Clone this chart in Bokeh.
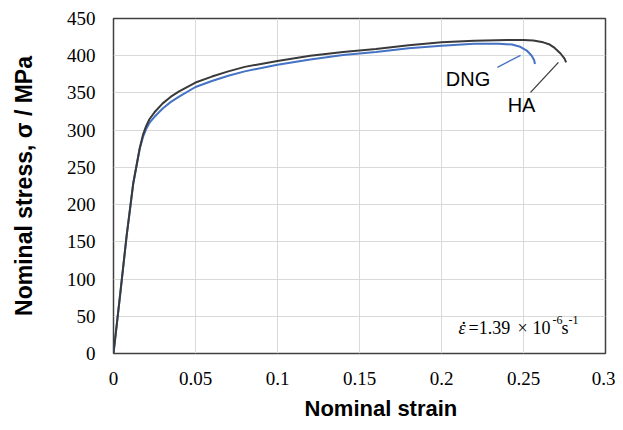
from bokeh.plotting import figure
from bokeh.models import Label, Range1d, FixedTicker
from bokeh.embed import file_html
from bokeh.resources import INLINE

# ---- data ----
ha_strain = [0, 0.004, 0.008, 0.012, 0.016, 0.018, 0.020, 0.022, 0.025, 0.030, 0.035, 0.040,
             0.050, 0.060, 0.070, 0.080, 0.100, 0.120, 0.140, 0.160, 0.180, 0.200, 0.220,
             0.240, 0.250, 0.256, 0.262, 0.266, 0.269, 0.2726, 0.275, 0.276]
ha_stress = [0, 78, 158, 228, 276, 294, 306, 315, 324, 336, 345, 352,
             364, 372, 379, 385, 393, 400, 405, 409, 414, 418, 420,
             421, 421, 420.5, 418, 415, 410.5, 403, 396, 391]

dng_strain = [0, 0.004, 0.008, 0.012, 0.016, 0.018, 0.020, 0.022, 0.025, 0.030, 0.035, 0.040,
              0.050, 0.060, 0.070, 0.080, 0.100, 0.120, 0.140, 0.160, 0.180, 0.200, 0.220,
              0.235, 0.243, 0.248, 0.252, 0.255, 0.2565, 0.257]
dng_stress = [0, 78, 158, 228, 275, 291, 302, 310, 318, 329, 338, 345,
              358, 366, 373, 379, 388, 395, 401, 405, 410, 413.5, 416,
              416, 415, 412, 407, 400, 394, 389]

x_ticks = [0, 0.05, 0.1, 0.15, 0.2, 0.25, 0.3]
x_tick_labels = ["0", "0.05", "0.1", "0.15", "0.2", "0.25", "0.3"]
y_ticks = [0, 50, 100, 150, 200, 250, 300, 350, 400, 450]

# leader lines for the curve labels (strain, stress)
dng_leader_x = [0.2341, 0.2482]
dng_leader_y = [384.4, 400.5]
ha_leader_x = [0.2543, 0.2713]
ha_leader_y = [350.8, 391.1]

HA_COLOR = "#3a3a3a"
DNG_COLOR = "#4472C4"
SANS = "Liberation Sans"
SERIF = "Liberation Serif"

p = figure(frame_width=492, frame_height=335,
           min_border_left=113, min_border_right=10, min_border_top=18, min_border_bottom=60,
           x_range=Range1d(0, 0.3), y_range=Range1d(0, 450),
           output_backend="svg", toolbar_location=None)
p.background_fill_color = "white"
p.border_fill_color = "white"
p.outline_line_color = "#404040"
p.outline_line_width = 1.5

xt = FixedTicker(ticks=x_ticks)
yt = FixedTicker(ticks=y_ticks)
p.xaxis.ticker = xt
p.yaxis.ticker = yt
p.xgrid.ticker = xt
p.ygrid.ticker = yt
p.xaxis.major_label_overrides = {t: l for t, l in zip(x_ticks, x_tick_labels)}
for g in (p.xgrid, p.ygrid):
    g.grid_line_color = "#d9d9d9"
    g.grid_line_width = 1
for ax in (p.xaxis, p.yaxis):
    ax.axis_line_color = None
    ax.major_tick_line_color = None
    ax.minor_tick_line_color = None
    ax.major_tick_out = 0
    ax.major_tick_in = 0
    ax.major_label_text_font = SERIF
    ax.major_label_text_font_size = "19px"
    ax.major_label_text_color = "black"
    ax.axis_label_text_font = SANS
    ax.axis_label_text_font_style = "bold"
    ax.axis_label_text_font_size = "22px"
    ax.axis_label_text_color = "black"
p.xaxis.major_label_standoff = 18
p.yaxis.major_label_standoff = 18
p.xaxis.axis_label = "\u00a0\u00a0\u00a0\u00a0\u00a0\u00a0\u00a0Nominal strain"
p.xaxis.axis_label_standoff = 8
p.yaxis.axis_label = "Nominal stress, \u03c3 / MPa"
p.yaxis.axis_label_text_font_size = "23px"
p.yaxis.axis_label_standoff = 27

p.line(dng_strain, dng_stress, color=DNG_COLOR, line_width=2)
p.line(ha_strain, ha_stress, color=HA_COLOR, line_width=2)
p.line(dng_leader_x, dng_leader_y, color=DNG_COLOR, line_width=1.3)
p.line(ha_leader_x, ha_leader_y, color=HA_COLOR, line_width=1.3)

def lab(x, y, text, font=SANS, size="20px", style="normal", align="center",
        baseline="middle", color="black"):
    p.add_layout(Label(x=x, y=y, text=text, text_font=font, text_font_size=size,
                       text_font_style=style, text_align=align, text_baseline=baseline,
                       text_color=color))

lab(0.2162, 368.3, "DNG")
lab(0.2488, 334.0, "HA")

# strain-rate annotation
lab(0.2104, 34.9, "\u03b5", font=SERIF, size="18px", style="italic", align="left", baseline="alphabetic")
lab(0.2136, 49.0, ".", font=SERIF, size="18px", align="center", baseline="alphabetic")
lab(0.2165, 34.9, "=1.39", font=SERIF, size="18px", align="left", baseline="alphabetic")
lab(0.2463, 34.9, "\u00d7", font=SERIF, size="18px", align="left", baseline="alphabetic")
lab(0.2555, 34.9, "10", font=SERIF, size="18px", align="left", baseline="alphabetic")
lab(0.2677, 45.0, "-6", font=SERIF, size="12px", align="left", baseline="alphabetic")
lab(0.2732, 34.9, "s", font=SERIF, size="18px", align="left", baseline="alphabetic")
lab(0.2774, 45.0, "-1", font=SERIF, size="12px", align="left", baseline="alphabetic")

open("out.html", "w").write(file_html(p, INLINE))
